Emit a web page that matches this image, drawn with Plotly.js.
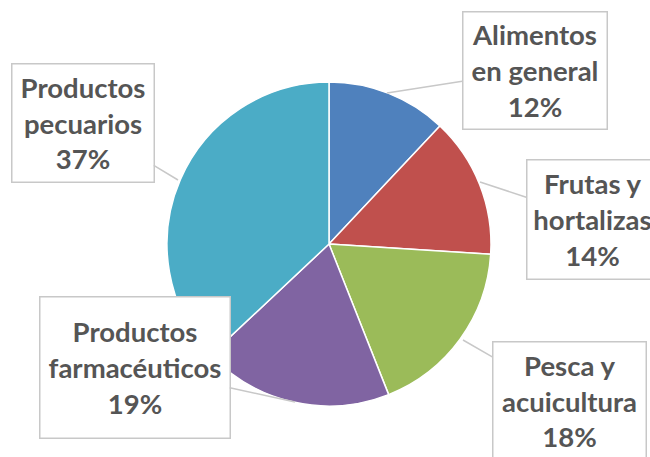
<!DOCTYPE html>
<html>
<head>
<meta charset="utf-8">
<script src="https://cdn.plot.ly/plotly-3.0.1.min.js"></script>
<style>html,body{margin:0;padding:0;background:#fff;}#chart{width:650px;height:457px;}</style>
</head>
<body>
<div id="chart"></div>
<script>
const categories = ["Alimentos<br>en general", "Frutas y<br>hortalizas", "Pesca y<br>acuicultura", "Productos<br>farmacéuticos", "Productos<br>pecuarios"];
const values = [12, 14, 18, 19, 37];
const colors = ["#4F81BD", "#C0504D", "#9BBB59", "#8064A2", "#4BACC6"];

const W = 650, H = 457;
// label box layout: [head px, head py, box center x, box center y, box width, box height]
const boxes = [
  [387, 93, 534.5, 70, 143, 116],
  [480, 182, 592, 219, 130, 118],
  [463, 340, 569, 401, 152, 117],
  [295, 402, 134.5, 367, 189, 140],
  [178, 180, 82.5, 122.5, 141, 117]
];

const annotations = categories.map((c, i) => {
  const b = boxes[i];
  return {
    xref: 'paper', yref: 'paper',
    x: b[0] / W, y: 1 - b[1] / H,
    ax: b[2] - b[0], ay: b[3] - b[1],
    showarrow: true, arrowhead: 0, arrowwidth: 1.5, arrowcolor: '#C8C8C8', standoff: 0,
    text: c + '<br>' + values[i] + '%',
    font: {family: 'Lato, "Open Sans", sans-serif', size: 27.5, color: '#555555', weight: 'bold'},
    align: 'center', valign: 'middle',
    width: b[4], height: b[5],
    bgcolor: '#FFFFFF', bordercolor: '#C8C8C8', borderwidth: 1.5, borderpad: 0
  };
});

const data = [{
  type: 'pie',
  labels: categories,
  values: values,
  sort: false,
  direction: 'clockwise',
  rotation: 0,
  marker: {colors: colors, line: {color: '#FFFFFF', width: 1.5}},
  textinfo: 'none',
  hoverinfo: 'label+percent',
  domain: {x: [167 / W, 491 / W], y: [51 / H, 375 / H]}
}];

const layout = {
  width: W, height: H,
  margin: {l: 0, r: 0, t: 0, b: 0},
  showlegend: false,
  paper_bgcolor: '#FFFFFF',
  annotations: annotations
};

Plotly.newPlot('chart', data, layout, {displayModeBar: false, staticPlot: true});
</script>
</body>
</html>
